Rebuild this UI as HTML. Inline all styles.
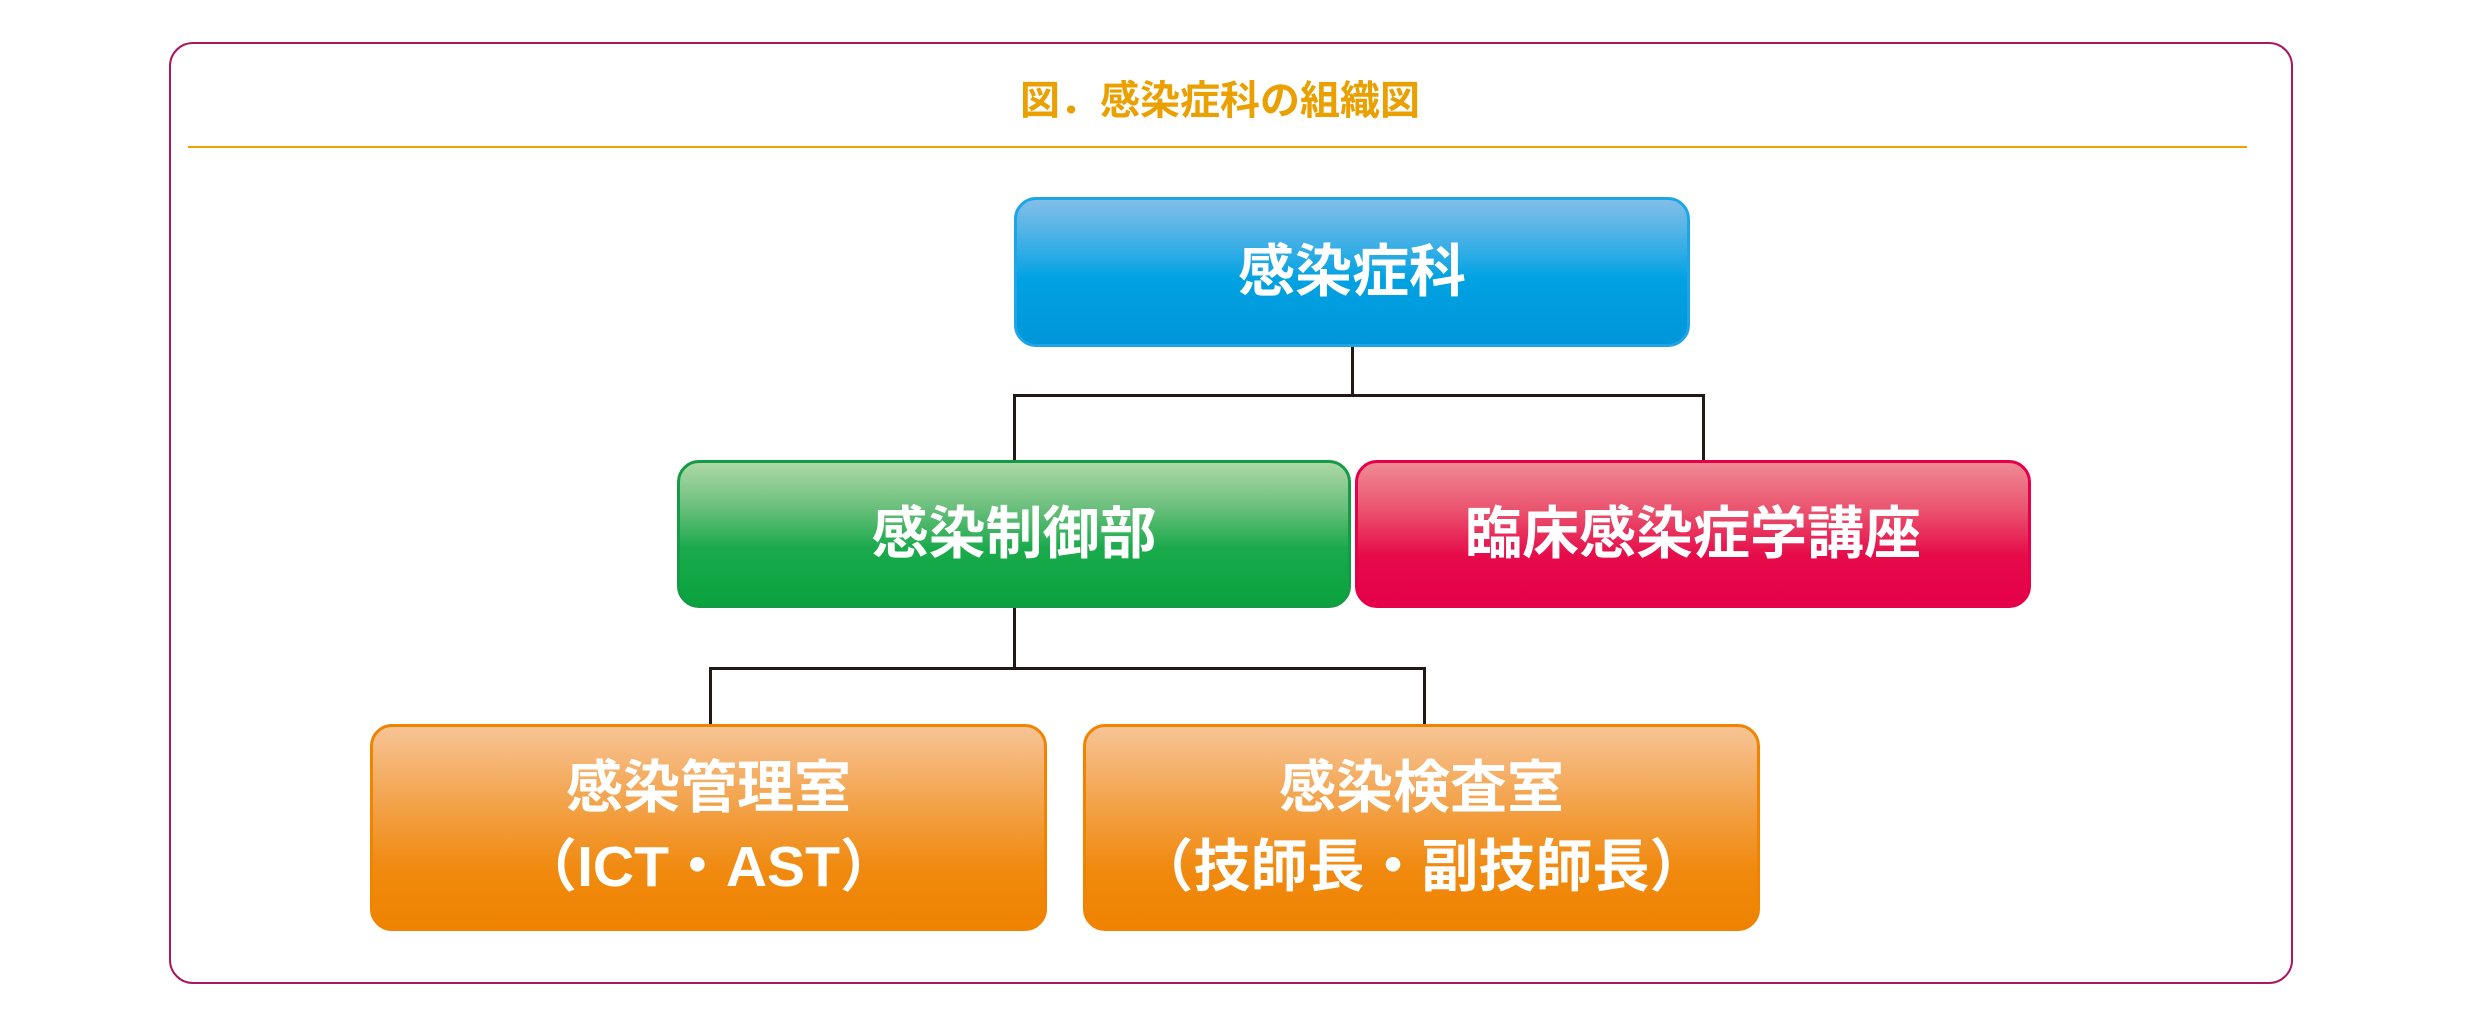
<!DOCTYPE html>
<html><head><meta charset="utf-8">
<style>
html,body{margin:0;padding:0;background:#fff;}
body{width:2480px;height:1024px;position:relative;overflow:hidden;font-family:"Liberation Sans","Noto Sans CJK JP",sans-serif;}
.frame{position:absolute;left:169px;top:42px;width:2124px;height:942px;border:2.5px solid #a8175f;border-radius:24px;box-sizing:border-box;}
.title{position:absolute;left:980px;top:72px;width:480px;text-align:center;color:#e9a000;font-size:40px;font-weight:bold;line-height:58px;white-space:nowrap;}
.rule{position:absolute;left:188px;top:146px;width:2059px;height:2px;background:#f0a200;}
.box{position:absolute;box-sizing:border-box;border-radius:22px;border:3px solid;color:#fff;font-weight:bold;font-size:57px;display:flex;flex-direction:column;align-items:center;justify-content:center;line-height:79px;white-space:nowrap;}
.blue{left:1014px;top:197px;width:676px;height:150px;border-color:#1ea5e6;background:linear-gradient(#82bee8 0%,#3fb0e6 30%,#00a2e2 55%,#0096da 100%);}
.green{left:677px;top:460px;width:674px;height:148px;border-color:#159a45;background:linear-gradient(#acd8a6 0%,#6ec07e 30%,#1aaa4c 60%,#0aa23e 100%);}
.red{left:1355px;top:460px;width:676px;height:148px;border-color:#e5004a;background:linear-gradient(#ef8a94 0%,#ea4f6c 35%,#e60b4a 65%,#e5004a 100%);}
.orange{top:724px;height:207px;border-color:#f08300;background:linear-gradient(#f7c495 0%,#f3a550 35%,#f08a10 70%,#ef8300 100%);}
.o1{left:370px;width:677px;}
.o2{left:1083px;width:677px;}
.ln{position:absolute;background:#231815;}
</style></head><body>
<div class="frame"></div>
<div class="title">図．感染症科の組織図</div>
<div class="rule"></div>
<div class="ln" style="left:1351px;top:346px;width:3px;height:50px"></div>
<div class="ln" style="left:1013px;top:394px;width:692px;height:3px"></div>
<div class="ln" style="left:1013px;top:394px;width:3px;height:67px"></div>
<div class="ln" style="left:1702px;top:394px;width:3px;height:67px"></div>
<div class="ln" style="left:1013px;top:607px;width:3px;height:62px"></div>
<div class="ln" style="left:709px;top:667px;width:717px;height:3px"></div>
<div class="ln" style="left:709px;top:667px;width:3px;height:58px"></div>
<div class="ln" style="left:1423px;top:667px;width:3px;height:58px"></div>
<div class="box blue">感染症科</div>
<div class="box green">感染制御部</div>
<div class="box red">臨床感染症学講座</div>
<div class="box orange o1"><div>感染管理室</div><div>（ICT・AST）</div></div>
<div class="box orange o2"><div>感染検査室</div><div>（技師長・副技師長）</div></div>
</body></html>
